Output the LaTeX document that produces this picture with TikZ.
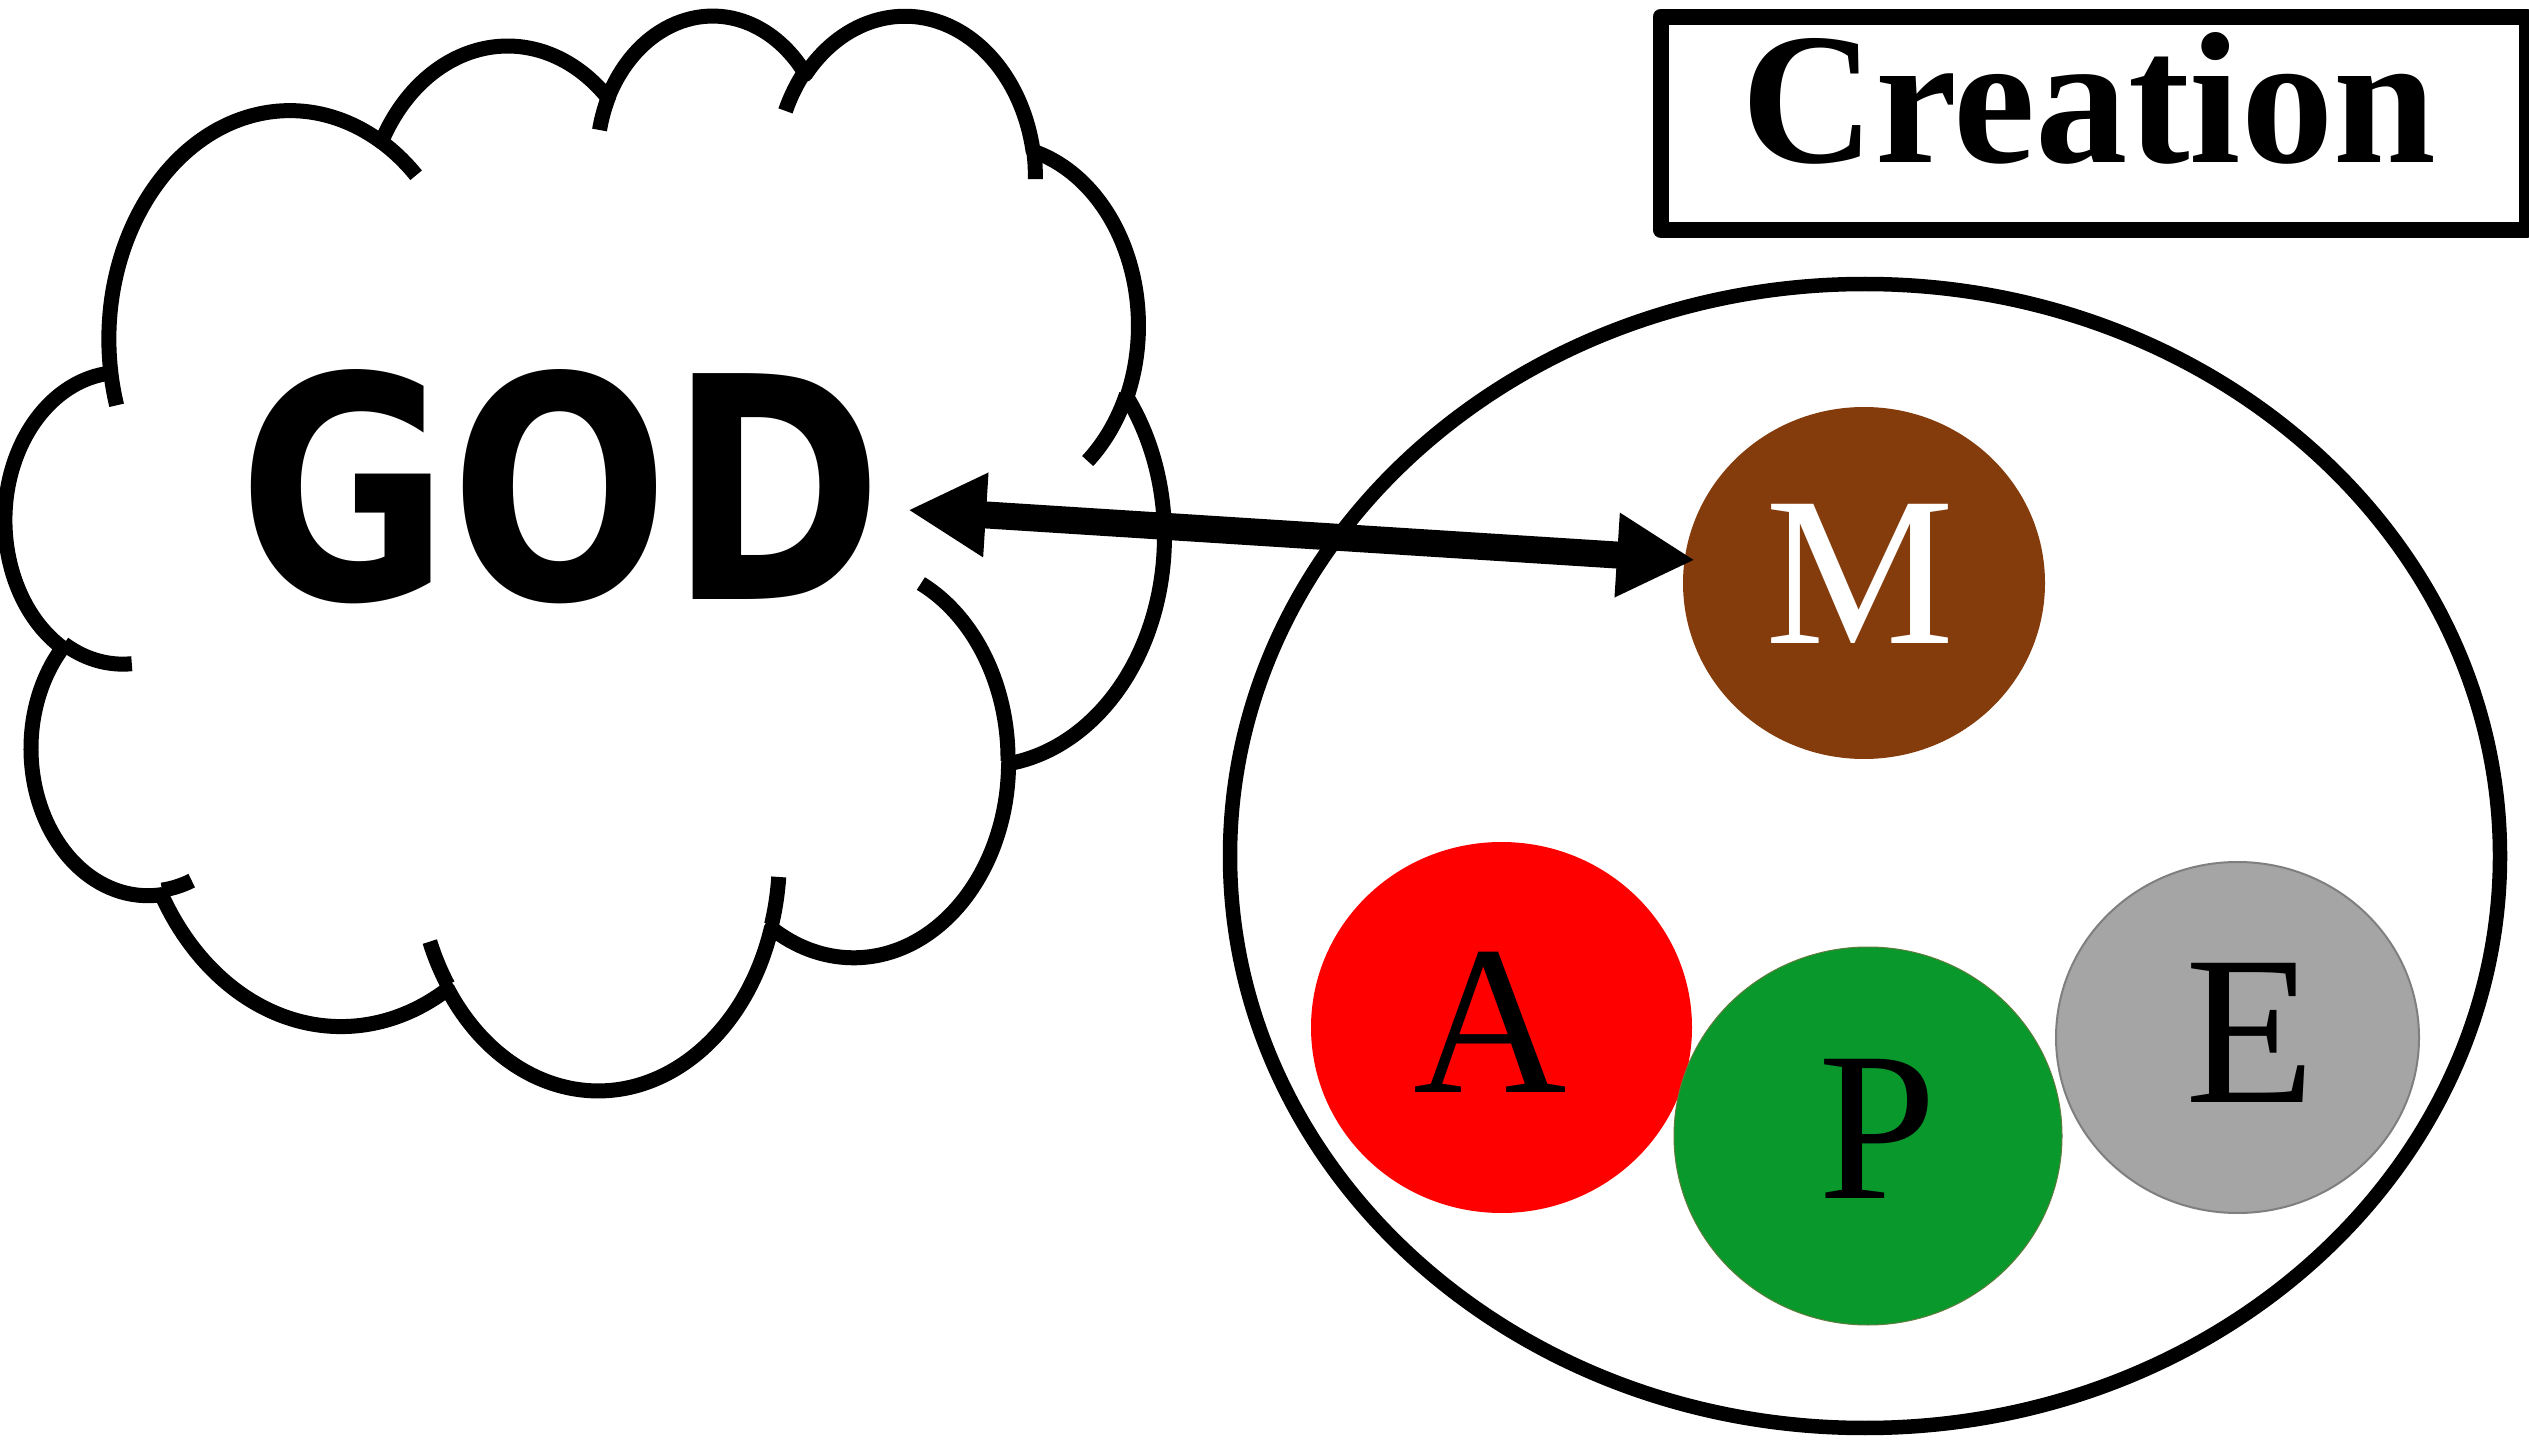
\documentclass[tikz,border=0pt]{standalone}
\usepackage{graphicx}
\usepackage{fontspec}
\setmainfont{Liberation Serif}
\newfontfamily\godfont{DejaVu Sans}
\newfontfamily\creafont{Liberation Serif}
\usetikzlibrary{shapes.geometric,arrows.meta}
\definecolor{mbrown}{HTML}{843C0C}
\definecolor{pgreen}{HTML}{08982B}
\definecolor{pedge}{HTML}{5E7D3C}
\definecolor{egray}{HTML}{A5A5A5}
\definecolor{eedge}{HTML}{7F7F7F}
\begin{document}
\begin{tikzpicture}[x=0.1mm, y=-0.1mm,
  cloudline/.style={line width=1.5mm, line join=round},
  worldline/.style={draw=black, line width=1.45mm},
  disc/.style={ellipse, inner sep=0pt, outer sep=0pt},
  letter/.style={inner sep=0pt, anchor=base, font=\fontsize{60.5}{70}\selectfont},
  bigarrow/.style={line width=2.7mm,
    {Triangle[length=7.8mm,width=7.9mm]}-{Triangle[length=7.8mm,width=7.9mm]}},
  boxline/.style={draw=black, line width=1.6mm, line join=round}]
\fill[white] (0,0) rectangle (2529,1440);
\useasboundingbox (0,0) rectangle (2529,1440);

% set of creation
\node[disc, worldline, minimum width=127mm, minimum height=114.4mm] (world) at (1865,856) {};
\node[disc, fill=mbrown, minimum width=36.2mm, minimum height=35.2mm] (m) at (1864,583) {};
\node[disc, fill=red, minimum width=38.1mm, minimum height=37.1mm] (a) at (1501.5,1027.5) {};
\node[disc, fill=pgreen, draw=pedge, line width=0.1mm, minimum width=38.8mm, minimum height=37.8mm] (p) at (1868,1136) {};
\node[disc, fill=egray, draw=eedge, line width=0.2mm, minimum width=36.3mm, minimum height=35.1mm] (e) at (2237.5,1037.5) {};
\node[letter, text=white] (mlab) at (1860,644) {M};
\node[letter] (alab) at (1490,1092) {A};
\node[letter] (plab) at (1878,1198) {P};
\node[letter] (elab) at (2250,1102) {E};

% cloud
\begin{scope}[shift={(6,12.6)}, xscale=2.6806, yscale=2.4873]
\draw[cloudline, fill=white] (39.00,143.70)
  arc[start angle=-187.75, delta angle=128.11, x radius=67.53, y radius=91.90]
  arc[start angle=-152.02, delta angle=106.56, x radius=53.33, y radius=72.67]
  arc[start angle=-153.49, delta angle=116.14, x radius=43.65, y radius=59.45]
  arc[start angle=-139.72, delta angle=129.50, x radius=48.57, y radius=65.95]
  arc[start angle=-74.77, delta angle=97.98, x radius=53.33, y radius=72.73]
  arc[start angle=-37.52, delta angle=119.38, x radius=67.75, y radius=92.20]
  arc[start angle=0.46, delta angle=121.53, x radius=57.85, y radius=78.67]
  arc[start angle=16.84, delta angle=129.39, x radius=67.52, y radius=92.15]
  arc[start angle=58.98, delta angle=91.22, x radius=77.20, y radius=105.43]
  arc[start angle=83.31, delta angle=139.82, x radius=43.60, y radius=59.18]
  arc[start angle=120.35, delta angle=143.76, x radius=43.45, y radius=59.45]
  -- cycle;
\draw[cloudline]
  (46.93,261.77) arc[start angle=85.54, delta angle=34.81, x radius=43.45, y radius=59.45]
  (69.28,348.99) arc[start angle=68.24, delta angle=15.07, x radius=43.60, y radius=59.18]
  (164.78,390.90) arc[start angle=146.23, delta angle=12.24, x radius=67.52, y radius=92.15]
  (288.27,347.51) arc[start angle=4.74, delta angle=12.10, x radius=67.52, y radius=92.15]
  (341.29,229.54) arc[start angle=-64.03, delta angle=64.49, x radius=57.85, y radius=78.67]
  (417.98,153.54) arc[start angle=23.21, delta angle=26.42, x radius=53.33, y radius=72.73]
  (383.24,54.26) arc[start angle=-10.22, delta angle=11.05, x radius=48.57, y radius=65.95]
  (290.78,39.52) arc[start angle=-156.29, delta angle=16.57, x radius=48.57, y radius=65.95]
  (221.41,47.20) arc[start angle=-167.72, delta angle=14.23, x radius=43.65, y radius=59.45]
  (140.00,51.92) arc[start angle=-59.64, delta angle=13.90, x radius=67.53, y radius=91.90]
  (41.27,157.89) arc[start angle=163.19, delta angle=9.06, x radius=67.53, y radius=91.90];
\end{scope}

\node[inner sep=0pt, anchor=base] (god) at (561,600)
  {\resizebox{64.4mm}{23mm}{\godfont\bfseries GOD}};

% relation arrow
\coordinate (gtip) at (908,510);
\coordinate (mtip) at (1695,560);
\draw[bigarrow] (gtip) -- (mtip);

% title box
\node[boxline, rectangle, inner sep=0pt, minimum width=86.65mm, minimum height=21.3mm] (titlebox) at (2093.75,123.2) {};
\node[inner sep=0pt, anchor=base] (title) at (2089,163)
  {\resizebox{69.4mm}{13mm}{\creafont\bfseries Creation}};
\end{tikzpicture}
\end{document}
